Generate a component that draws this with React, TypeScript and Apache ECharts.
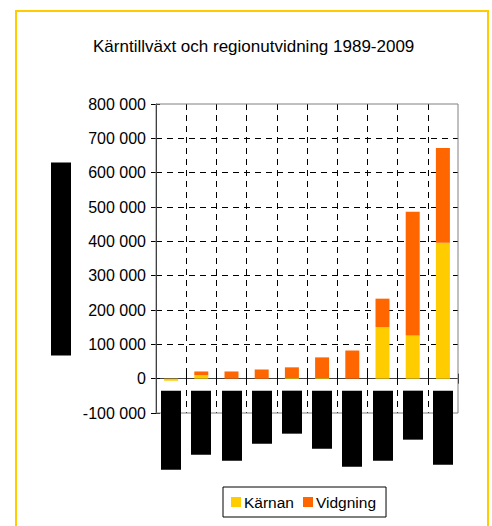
import React, { useEffect, useRef } from "react";
import * as echarts from "echarts";

// ---- data ----
const categories = ["Område 1", "Område 2", "Område 3", "Område 4", "Område 5", "Område 6", "Område 7", "Område 8", "Område 9", "Område 10"];
const karnan = [-6000, 10000, 0, 0, 2000, 2000, 0, 150000, 126000, 396000];
const vidgning = [0, 11000, 21000, 27000, 31000, 60000, 82000, 83000, 360000, 276000];
const seriesNames = ["Kärnan", "Vidgning"];
const titleText = "Kärntillväxt och regionutvidning 1989-2009";
const yMin = -100000;
const yMax = 800000;
const yStep = 100000;

// ---- redaction boxes (hidden category labels / axis name), layout only ----
const hiddenLabelLengths = [79, 64, 70, 53, 43, 58, 76, 70, 49, 74];

const FONT = "'Liberation Sans', Arial, sans-serif";

function fmt(v: number): string {
  const s = Math.abs(v).toString().replace(/\B(?=(\d{3})+(?!\d))/g, " ");
  return (v < 0 ? "-" : "") + s;
}

export default function App() {
  const ref = useRef<HTMLDivElement>(null);
  useEffect(() => {
    document.body.style.margin = "0";
    const chart = echarts.init(ref.current!, undefined, { renderer: "svg" });
    const dashed = { color: "#000", width: 1, type: [6, 5] as any };
    chart.setOption({
      animation: false,
      backgroundColor: "#fff",
      title: {
        text: titleText,
        left: 88,
        top: 33,
        textStyle: { fontFamily: FONT, fontSize: 17, fontWeight: "normal", color: "#000" },
      },
      legend: {
        data: seriesNames,
        left: 223,
        top: 487,
        orient: "horizontal",
        icon: "rect",
        itemWidth: 10,
        itemHeight: 10,
        itemGap: 9,
        padding: [7, 10, 7, 8],
        borderColor: "#000",
        borderWidth: 1,
        selectedMode: false,
        textStyle: { fontFamily: FONT, fontSize: 15.5, color: "#000", padding: [0, 0, 0, -2] },
      },
      grid: {
        left: 156,
        right: 34,
        top: 104,
        bottom: 113,
        show: true,
        borderColor: "#808080",
        borderWidth: 1,
        backgroundColor: "transparent",
        z: 3,
      },
      xAxis: [
        {
          type: "category",
          data: categories,
          position: "bottom",
          axisLine: { onZero: true, lineStyle: { color: "#404040", width: 1 } },
          axisTick: { show: true, interval: 0, length: 5, lineStyle: { color: "#000" } },
          axisLabel: { show: false, interval: 0 },
          splitLine: { show: true, interval: 0, showMinLine: false, showMaxLine: false, lineStyle: dashed },
        },
        {
          type: "category",
          data: categories,
          position: "bottom",
          axisLine: { show: false, onZero: true },
          axisTick: { show: true, interval: 0, inside: true, length: 5, lineStyle: { color: "#000" } },
          axisLabel: { show: false, interval: 0 },
          splitLine: { show: false },
        },
      ],
      yAxis: [
        {
          type: "value",
          min: yMin,
          max: yMax,
          interval: yStep,
          position: "left",
          axisLine: { show: true, lineStyle: { color: "#000", width: 1 } },
          axisTick: { show: true, length: 5, lineStyle: { color: "#000" } },
          axisLabel: { fontFamily: FONT, fontSize: 16, color: "#000", margin: 10, formatter: fmt },
          splitLine: { show: true, showMinLine: false, showMaxLine: false, lineStyle: dashed },
        },
        {
          type: "value",
          min: yMin,
          max: yMax,
          interval: yStep,
          position: "left",
          axisLine: { show: false },
          axisTick: { show: true, inside: true, length: 4, lineStyle: { color: "#000" } },
          axisLabel: { show: false },
          splitLine: { show: false },
        },
      ],
      series: [
        {
          name: seriesNames[0],
          type: "bar",
          stack: "total",
          data: karnan,
          barWidth: 14,
          itemStyle: { color: "#FFCC00" },
        },
        {
          name: seriesNames[1],
          type: "bar",
          stack: "total",
          data: vidgning,
          barWidth: 14,
          itemStyle: { color: "#FF6600" },
        },
      ],
    });

    const zeroY = chart.convertToPixel({ yAxisIndex: 0 }, 0) as number;
    const topY = chart.convertToPixel({ yAxisIndex: 0 }, yMax) as number;
    const botY = chart.convertToPixel({ yAxisIndex: 0 }, yMin) as number;
    const midY = (topY + botY) / 2;
    const boxes = hiddenLabelLengths.map((h, i) => {
      const cx = chart.convertToPixel({ xAxisIndex: 0 }, i) as number;
      return {
        type: "rect",
        shape: { x: Math.round(cx) - 10, y: zeroY + 12, width: 20, height: h },
        style: { fill: "#000" },
        z: 100,
      };
    });
    chart.setOption({
      graphic: [
        {
          type: "rect",
          shape: { x: 16, y: 11, width: 472, height: 600 },
          style: { fill: "none", stroke: "#FFCC00", lineWidth: 2 },
          silent: true,
          z: 100,
        },
        {
          type: "rect",
          shape: { x: 51, y: midY - 96, width: 20, height: 193 },
          style: { fill: "#000" },
          z: 100,
        },
        ...boxes,
      ],
    });
    return () => chart.dispose();
  }, []);
  return <div ref={ref} style={{ width: 492, height: 526, position: "absolute", left: 0, top: 0 }} />;
}
